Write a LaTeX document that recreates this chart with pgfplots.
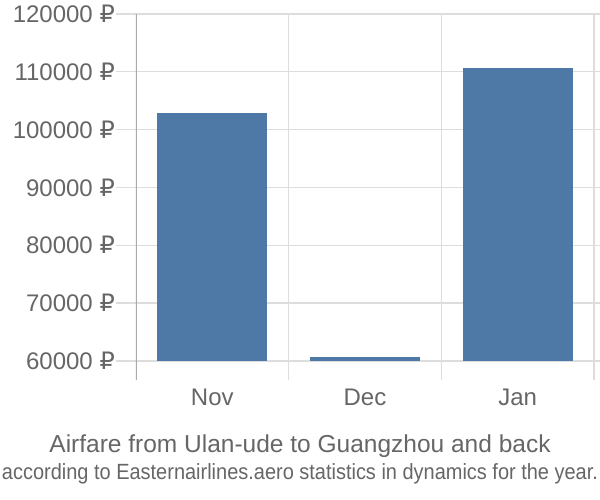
\documentclass[border=0pt]{standalone}
\usepackage{pgfplots}
\pgfplotsset{compat=1.18}
\usepackage{fontspec}
\setmainfont{Liberation Sans}
\newfontfamily\rub{DejaVu Sans}
\definecolor{txt}{HTML}{666666}
\definecolor{gridc}{HTML}{DDDDDD}
\definecolor{barc}{HTML}{4E79A7}
\definecolor{axl}{HTML}{AAAAAA}
\begin{document}
\begin{tikzpicture}
\path[use as bounding box] (-136bp,-120bp) rectangle (464bp,380bp);
\begin{axis}[
  at={(0,0)}, anchor=south west,
  scale only axis, width=458bp, height=366bp,
  xmin=-0.5, xmax=2.5, ymin=56700, ymax=120000,
  axis line style={draw=none},
  xtick={0,1,2}, xticklabels={Nov,Dec,Jan},
  minor xtick={0.5,1.5,2.5},
  xminorgrids=true,
  minor x grid style={gridc, line width=1.2bp},
  xtick style={draw=none},
  minor tick length=0pt,
  ytick={60000,70000,...,120000},
  scaled y ticks=false,
  yticklabel={\pgfmathprintnumber[assume math mode=true,fixed,precision=0,1000 sep={}]{\tick}\ {\rub ₽}},
  ymajorgrids=true,
  y grid style={gridc, line width=1.2bp},
  tick align=outside,
  major tick length=20bp,
  ytick style={gridc, line width=1.2bp},
  tick label style={font=\fontsize{24bp}{28bp}\selectfont, text=txt},
  yticklabel style={inner sep=1bp},
  xticklabel style={inner sep=2bp, yshift=13bp},
]
\addplot[fill=barc, draw=none] coordinates {(-0.36,60000) (-0.36,102800) (0.36,102800) (0.36,60000)};
\addplot[fill=barc, draw=none] coordinates {(0.64,60000) (0.64,60650) (1.36,60650) (1.36,60000)};
\addplot[fill=barc, draw=none] coordinates {(1.64,60000) (1.64,110600) (2.36,110600) (2.36,60000)};
\draw[axl, line width=1.3bp] (rel axis cs:0,0) -- (rel axis cs:0,1);
\end{axis}
\node[text=txt, font=\fontsize{24.5bp}{28bp}\selectfont] at (164bp,-66bp) {Airfare from Ulan-ude to Guangzhou and back};
\node[text=txt, font=\fontsize{22bp}{26bp}\selectfont, inner sep=0pt] at (164bp,-94bp) {\resizebox{596bp}{\height}{according to Easternairlines.aero statistics in dynamics for the year.}};
\end{tikzpicture}
\end{document}
